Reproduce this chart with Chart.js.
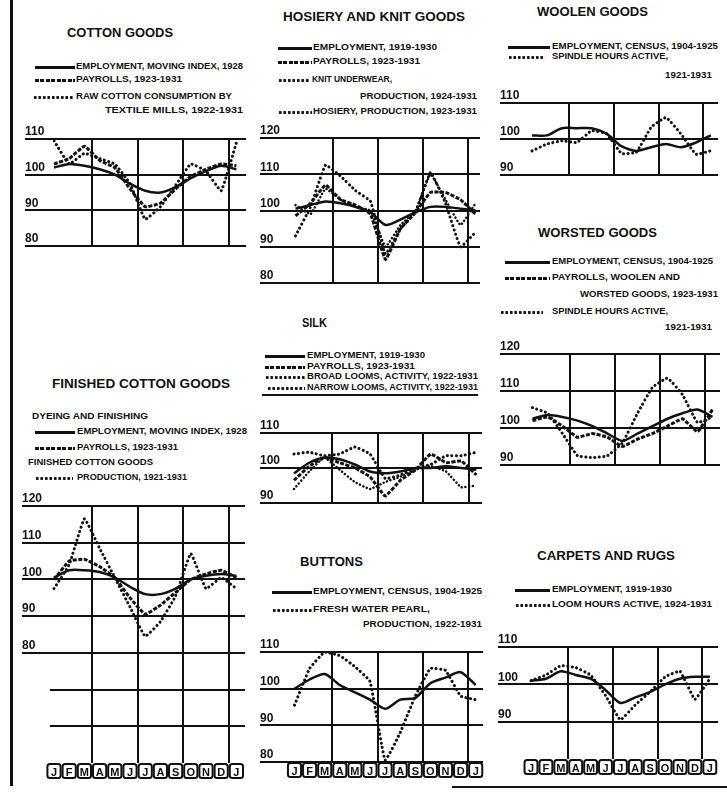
<!DOCTYPE html>
<html lang="en">
<head>
  <meta charset="UTF-8">
  <title>Seasonal variation in textile industries</title>
  <script src="https://cdn.jsdelivr.net/npm/chart.js"></script>
  <style>
    html, body {
      margin: 0;
      padding: 0;
      background: #fff;
    }
    #page {
      position: relative;
      width: 727px;
      height: 792px;
      overflow: hidden;
      background: #fff;
    }
    .t {
      position: absolute;
      white-space: nowrap;
      font-family: "Liberation Sans", Arial, sans-serif;
      font-weight: bold;
      color: #111;
      line-height: 1;
      transform-origin: 0 50%;
    }
    .title { font-size: 13px; }
    .lg { font-size: 9px; }
    .ln { position: absolute; background: #111; }
    .smp { position: absolute; height: 3px; }
    .solid { background: #111; }
    .dash { background: repeating-linear-gradient(90deg, #111 0 4px, transparent 4px 5.5px); }
    .dot { background: radial-gradient(circle, #111 1.3px, transparent 1.7px) 0 0 / 4.5px 3px repeat-x; }
    canvas { position: absolute; }
  </style>
</head>
<body>
<div id="page">
  <!-- frame -->
  <div class="ln" style="left:10px;top:0;width:3px;height:786px"></div>
  <div class="ln" style="left:452px;top:786px;width:275px;height:2px"></div>

  <!-- cotton goods -->
  <div class="t title" style="left:67px;top:26px" data-w="106">COTTON GOODS</div>
  <div class="smp solid" style="left:35px;top:66px;width:40px"></div>
  <div class="t lg" style="left:76px;top:62px" data-w="167">EMPLOYMENT, MOVING INDEX, 1928</div>
  <div class="smp dash" style="left:35px;top:79px;width:40px"></div>
  <div class="t lg" style="left:76px;top:75px" data-w="106">PAYROLLS, 1923-1931</div>
  <div class="smp dot" style="left:33px;top:96px;width:41px"></div>
  <div class="t lg" style="left:76px;top:92px" data-w="156">RAW COTTON CONSUMPTION BY</div>
  <div class="t lg" style="left:105px;top:106px" data-w="138">TEXTILE MILLS, 1922-1931</div>

  <!-- hosiery -->
  <div class="t title" style="left:283px;top:10px" data-w="182">HOSIERY AND KNIT GOODS</div>
  <div class="smp solid" style="left:278px;top:47px;width:34px"></div>
  <div class="t lg" style="left:313px;top:43px" data-w="124">EMPLOYMENT, 1919-1930</div>
  <div class="smp dash" style="left:278px;top:61px;width:34px"></div>
  <div class="t lg" style="left:313px;top:57px" data-w="107">PAYROLLS, 1923-1931</div>
  <div class="smp dot" style="left:278px;top:79px;width:32px"></div>
  <div class="t lg" style="left:312px;top:75px" data-w="80">KNIT UNDERWEAR,</div>
  <div class="t lg" style="left:360px;top:92px" data-w="117">PRODUCTION, 1924-1931</div>
  <div class="smp dot" style="left:278px;top:111px;width:34px"></div>
  <div class="t lg" style="left:313px;top:107px" data-w="164">HOSIERY, PRODUCTION, 1923-1931</div>

  <!-- woolen -->
  <div class="t title" style="left:537px;top:5px" data-w="111">WOOLEN GOODS</div>
  <div class="smp solid" style="left:508px;top:46px;width:42px"></div>
  <div class="t lg" style="left:552px;top:42px" data-w="166">EMPLOYMENT, CENSUS, 1904-1925</div>
  <div class="smp dot" style="left:508px;top:56px;width:37px"></div>
  <div class="t lg" style="left:552px;top:52px" data-w="116">SPINDLE HOURS ACTIVE,</div>
  <div class="t lg" style="left:665px;top:71px" data-w="47">1921-1931</div>

  <!-- worsted -->
  <div class="t title" style="left:538px;top:226px" data-w="119">WORSTED GOODS</div>
  <div class="smp solid" style="left:505px;top:261px;width:45px"></div>
  <div class="t lg" style="left:552px;top:257px" data-w="161">EMPLOYMENT, CENSUS, 1904-1925</div>
  <div class="smp dash" style="left:505px;top:277px;width:45px"></div>
  <div class="t lg" style="left:552px;top:273px" data-w="128">PAYROLLS, WOOLEN AND</div>
  <div class="t lg" style="left:580px;top:290px" data-w="138">WORSTED GOODS, 1923-1931</div>
  <div class="smp dot" style="left:500px;top:311px;width:43px"></div>
  <div class="t lg" style="left:552px;top:307px" data-w="116">SPINDLE HOURS ACTIVE,</div>
  <div class="t lg" style="left:665px;top:323px" data-w="47">1921-1931</div>

  <!-- finished cotton goods -->
  <div class="t title" style="left:52px;top:377px" data-w="178">FINISHED COTTON GOODS</div>
  <div class="t lg" style="left:32px;top:412px" data-w="116">DYEING AND FINISHING</div>
  <div class="smp solid" style="left:35px;top:431px;width:40px"></div>
  <div class="t lg" style="left:77px;top:427px" data-w="170">EMPLOYMENT, MOVING INDEX, 1928</div>
  <div class="smp dash" style="left:35px;top:447px;width:40px"></div>
  <div class="t lg" style="left:77px;top:443px" data-w="101">PAYROLLS, 1923-1931</div>
  <div class="t lg" style="left:28px;top:458px" data-w="125">FINISHED COTTON GOODS</div>
  <div class="smp dot" style="left:35px;top:477px;width:38px"></div>
  <div class="t lg" style="left:77px;top:473px" data-w="110">PRODUCTION, 1921-1931</div>

  <!-- silk -->
  <div class="t title" style="left:302px;top:316px" data-w="25">SILK</div>
  <div class="smp solid" style="left:265px;top:355px;width:40px"></div>
  <div class="t lg" style="left:307px;top:351px" data-w="118">EMPLOYMENT, 1919-1930</div>
  <div class="smp dash" style="left:265px;top:366px;width:40px"></div>
  <div class="t lg" style="left:307px;top:362px" data-w="108">PAYROLLS, 1923-1931</div>
  <div class="smp dot" style="left:265px;top:376px;width:40px"></div>
  <div class="t lg" style="left:307px;top:372px" data-w="171">BROAD LOOMS, ACTIVITY, 1922-1931</div>
  <div class="smp dot" style="left:267px;top:387px;width:38px"></div>
  <div class="t lg" style="left:307px;top:383px" data-w="171">NARROW LOOMS, ACTIVITY, 1922-1931</div>
  <div class="ln" style="left:262px;top:394px;width:216px;height:2px"></div>

  <!-- buttons -->
  <div class="t title" style="left:300px;top:555px" data-w="63">BUTTONS</div>
  <div class="smp solid" style="left:272px;top:591px;width:40px"></div>
  <div class="t lg" style="left:313px;top:587px" data-w="169">EMPLOYMENT, CENSUS, 1904-1925</div>
  <div class="smp dot" style="left:272px;top:609px;width:40px"></div>
  <div class="t lg" style="left:313px;top:605px" data-w="117">FRESH WATER PEARL,</div>
  <div class="t lg" style="left:363px;top:620px" data-w="119">PRODUCTION, 1922-1931</div>

  <!-- carpets -->
  <div class="t title" style="left:537px;top:549px" data-w="138">CARPETS AND RUGS</div>
  <div class="smp solid" style="left:515px;top:589px;width:35px"></div>
  <div class="t lg" style="left:552px;top:585px" data-w="120">EMPLOYMENT, 1919-1930</div>
  <div class="smp dot" style="left:515px;top:604px;width:35px"></div>
  <div class="t lg" style="left:552px;top:600px" data-w="160">LOOM HOURS ACTIVE, 1924-1931</div>
</div>

<script>
  // months on the x axis, J (first) to J (next year)
  const monthLabels = ["J", "F", "M", "A", "M", "J", "J", "A", "S", "O", "N", "D", "J"];
  // vertical rules fall between quarters
  const quarterLines = [2.5, 5.5, 8.5, 11.5];

  // cotton goods
  const cottonTicks = [110, 100, 90, 80];
  const cottonEmployment = [102, 103, 102.5, 101.5, 100, 97.5, 95.5, 95, 96.5, 99, 101, 102.5, 101.5];
  const cottonPayrolls = [103, 104.5, 108, 104, 102, 96, 91, 92, 96, 99.5, 101.5, 103, 102.5];
  const rawCotton = [109.5, 103, 106, 104.5, 103, 97.5, 87.5, 91, 97, 103, 101, 95.5, 109];

  // hosiery and knit goods
  const hosieryTicks = [120, 110, 100, 90, 80];
  const hosieryEmployment = [100.5, 101.5, 102.5, 102, 101, 99.5, 96, 97.5, 99.5, 101, 101, 100.5, 100];
  const hosieryPayrolls = [98.5, 102, 107, 103, 101.5, 99, 86.5, 95, 99.5, 105, 105, 103, 99];
  const knitUnderwear = [93, 101, 112.5, 109.5, 105.5, 102.5, 88, 95, 99.5, 110.5, 102, 90, 94];
  const hosieryProduction = [101.5, 99, 106, 103, 101, 100, 90, 96, 100, 110, 103, 96, 102];

  // woolen goods
  const woolenTicks = [110, 100, 90];
  const woolenEmployment = [101, 101, 103, 103, 103, 101.5, 98, 96.7, 97.7, 98.6, 97.7, 99, 101];
  const woolenSpindle = [96.7, 98.6, 99.5, 99, 102.3, 101.5, 96, 96.3, 103.3, 106, 101.4, 95.8, 96.7];

  // worsted goods
  const worstedTicks = [120, 110, 100, 90];
  const worstedEmployment = [102.5, 103.5, 103, 102, 100.5, 98.5, 96.5, 98.5, 100.5, 102.5, 104, 105, 103];
  const worstedPayrolls = [102, 103, 100.5, 97.5, 98.5, 97.5, 95, 97, 98.5, 100.5, 102.5, 99, 105];
  const worstedSpindle = [105.5, 104, 98.5, 92.5, 92, 92.5, 96, 104, 111, 113.5, 109, 101.5, 103];

  // finished cotton goods
  const finishedTicks = [120, 110, 100, 90, 80];
  const finishedGrid = [120, 110, 100, 90, 80, 70, 60];
  const finishedEmployment = [100.5, 102.5, 102.5, 102, 100.5, 98, 96, 96, 97.5, 100, 101, 101.5, 101];
  const finishedPayrolls = [100, 105, 105.5, 103.5, 100.5, 95, 90.5, 93, 96.5, 100, 101.5, 102.5, 100.5];
  const finishedProduction = [97.5, 104, 116.5, 108.5, 100.5, 92.5, 84.5, 88.5, 95.5, 107, 97.5, 100.5, 97.5];

  // silk
  const silkTicks = [110, 100, 90];
  const silkEmployment = [98.5, 101.5, 103, 102.5, 101, 99, 98.5, 99, 100, 100, 100.5, 100, 99.5];
  const silkPayrolls = [96.5, 100.5, 103, 101.5, 100, 97.5, 92, 96.5, 99.5, 104, 101.5, 102, 98];
  const broadLooms = [104, 104.5, 103.5, 104, 106, 104, 97, 98, 100, 101, 103.5, 103.5, 104.5];
  const narrowLooms = [94, 99, 103, 99.5, 96, 94, 96, 97.5, 99.5, 100.5, 99, 94.5, 95];

  // buttons
  const buttonsTicks = [110, 100, 90, 80];
  const buttonsEmployment = [100, 102.5, 104, 101, 99, 97, 94.5, 97, 97.5, 101.5, 103, 104.5, 101];
  const pearlProduction = [95.5, 105.5, 110, 109, 106, 102, 80.5, 88, 98, 105.5, 105, 98, 97];

  // carpets and rugs
  const carpetsTicks = [110, 100, 90];
  const carpetsEmployment = [101, 101.5, 103.5, 102.5, 101.5, 98.5, 95, 96.5, 98, 100, 101.5, 102, 102];
  const loomHours = [101, 102.5, 105, 104.5, 102.5, 97, 90.5, 94.5, 98, 102, 103.5, 96, 101.5];

  const FONT = "'Liberation Sans', Arial, sans-serif";
  const INK = "#111";

  const lineStyles = {
    solid: { borderWidth: 2.5, borderDash: [], tension: 0.25 },
    dash: { borderWidth: 3, borderDash: [4, 1.5], tension: 0.1 },
    dot: { borderWidth: 3, borderDash: [0.1, 4.4], borderCapStyle: "round", tension: 0.1 },
    dot2: { borderWidth: 2.5, borderDash: [0.1, 3.6], borderCapStyle: "round", tension: 0.1 }
  };

  // L: left of tick labels, A: left of plot, R: right of plot, top: pixel of top rule
  const panels = [
    { L: 25, A: 53, R: 246, top: 139, yMax: 110, yMin: 80, ppu: 3.57, x0: 54, dx: 15.2,
      ticks: cottonTicks, grid: cottonTicks, months: false,
      series: [[cottonEmployment, "solid"], [cottonPayrolls, "dash"], [rawCotton, "dot"]] },
    { L: 260, A: 285, R: 480, top: 138, yMax: 120, yMin: 80, ppu: 3.625, x0: 295.5, dx: 15,
      ticks: hosieryTicks, grid: hosieryTicks, months: false,
      series: [[hosieryEmployment, "solid"], [hosieryPayrolls, "dash"], [knitUnderwear, "dot"], [hosieryProduction, "dot2"]] },
    { L: 500, A: 527, R: 718, top: 103, yMax: 110, yMin: 90, ppu: 3.6, x0: 532, dx: 14.9,
      ticks: woolenTicks, grid: woolenTicks, months: false,
      series: [[woolenEmployment, "solid"], [woolenSpindle, "dot"]] },
    { L: 500, A: 530, R: 720, top: 354, yMax: 120, yMin: 90, ppu: 3.7, x0: 532.5, dx: 15,
      ticks: worstedTicks, grid: worstedTicks, months: false,
      series: [[worstedEmployment, "solid"], [worstedPayrolls, "dash"], [worstedSpindle, "dot"]] },
    { L: 22, A: 50, R: 245, top: 506, yMax: 120, yMin: 50, ppu: 3.67, x0: 54, dx: 15.2,
      ticks: finishedTicks, grid: finishedGrid, months: true,
      series: [[finishedEmployment, "solid"], [finishedPayrolls, "dash"], [finishedProduction, "dot"]] },
    { L: 260, A: 288, R: 482, top: 433, yMax: 110, yMin: 90, ppu: 3.5, x0: 294, dx: 15.2,
      ticks: silkTicks, grid: silkTicks, months: false,
      series: [[silkEmployment, "solid"], [silkPayrolls, "dash"], [broadLooms, "dot"], [narrowLooms, "dot2"]] },
    { L: 260, A: 290, R: 483, top: 652, yMax: 110, yMin: 80, ppu: 3.67, x0: 294.5, dx: 15.1,
      ticks: buttonsTicks, grid: buttonsTicks, months: true,
      series: [[buttonsEmployment, "solid"], [pearlProduction, "dot"]] },
    { L: 498, A: 528, R: 718, top: 647, yMax: 110, yMin: 80, ppu: 3.73, x0: 531, dx: 14.9,
      ticks: carpetsTicks, grid: carpetsTicks, months: true,
      series: [[carpetsEmployment, "solid"], [loomHours, "dot"]] }
  ];

  // boxed month letters under the bottom row
  const monthBoxes = {
    id: "monthBoxes",
    afterDraw(chart) {
      const s = chart.scales.m;
      if (!s) return;
      const ctx = chart.ctx;
      const step = s.getPixelForValue(1) - s.getPixelForValue(0);
      ctx.save();
      ctx.strokeStyle = INK;
      ctx.lineWidth = 2;
      s.ticks.forEach(t => {
        const px = s.getPixelForValue(t.value);
        ctx.beginPath();
        ctx.roundRect(px - step / 2 + 1, s.top + 1, step - 2, 14, 2.5);
        ctx.stroke();
      });
      ctx.restore();
    }
  };

  const page = document.getElementById("page");

  function makeChart(p) {
    const padTop = 14;
    const padBot = p.months ? 1 : 8;
    const monthH = p.months ? 16 : 0;
    const w = p.R - p.L + 2;
    const h = Math.round(padTop + (p.yMax - p.yMin) * p.ppu + padBot + monthH);
    const cv = document.createElement("canvas");
    cv.width = w;
    cv.height = h;
    cv.style.left = p.L + "px";
    cv.style.top = (p.top - padTop) + "px";
    page.appendChild(cv);

    const xMin = (p.A - p.x0) / p.dx;
    const xMax = (p.R - p.x0) / p.dx;

    const scales = {
      x: {
        type: "linear", position: "bottom", min: xMin, max: xMax,
        afterBuildTicks: s => { s.ticks = quarterLines.map(v => ({ value: v })); },
        afterFit: s => { s.height = 0; },
        ticks: { display: false },
        border: { display: false },
        grid: { color: INK, lineWidth: 2, drawTicks: false }
      },
      y: {
        type: "linear", min: p.yMin, max: p.yMax,
        afterBuildTicks: s => { s.ticks = p.grid.map(v => ({ value: v })); },
        afterFit: s => { s.width = p.A - p.L; },
        border: { display: false },
        grid: {
          color: INK, lineWidth: 2, tickLength: p.A - p.L,
          tickColor: c => (c.tick && p.ticks.includes(c.tick.value)) ? INK : "rgba(0,0,0,0)"
        },
        ticks: {
          autoSkip: false, crossAlign: "far", labelOffset: -7, padding: 0, color: INK,
          font: { family: FONT, weight: "bold", size: 12 },
          callback: v => p.ticks.includes(v) ? String(v) : ""
        }
      }
    };
    if (p.months) {
      scales.m = {
        type: "linear", axis: "x", position: "bottom", min: xMin, max: xMax,
        afterBuildTicks: s => { s.ticks = monthLabels.map((_, i) => ({ value: i })); },
        afterFit: s => { s.height = monthH; },
        border: { display: false },
        grid: { display: false, drawTicks: false },
        ticks: {
          autoSkip: false, maxRotation: 0, padding: 3, color: INK,
          font: { family: FONT, weight: "bold", size: 11 },
          callback: v => monthLabels[v]
        }
      };
    }

    new Chart(cv, {
      type: "line",
      data: {
        datasets: p.series.map(([arr, st]) => Object.assign({
          data: arr.map((v, i) => ({ x: i, y: v })),
          borderColor: INK,
          pointRadius: 0,
          fill: false
        }, lineStyles[st]))
      },
      options: {
        responsive: false,
        animation: false,
        events: [],
        layout: { padding: { top: padTop, right: 2, bottom: padBot, left: 0 } },
        plugins: { legend: { display: false }, tooltip: { enabled: false } },
        scales: scales
      },
      plugins: [monthBoxes]
    });
  }

  // squeeze each text line to the width it has in the reference
  document.querySelectorAll(".t[data-w]").forEach(el => {
    const natural = el.getBoundingClientRect().width;
    const target = parseFloat(el.dataset.w);
    if (natural > 0) el.style.transform = "scaleX(" + (target / natural) + ")";
  });

  panels.forEach(makeChart);
</script>
</body>
</html>
